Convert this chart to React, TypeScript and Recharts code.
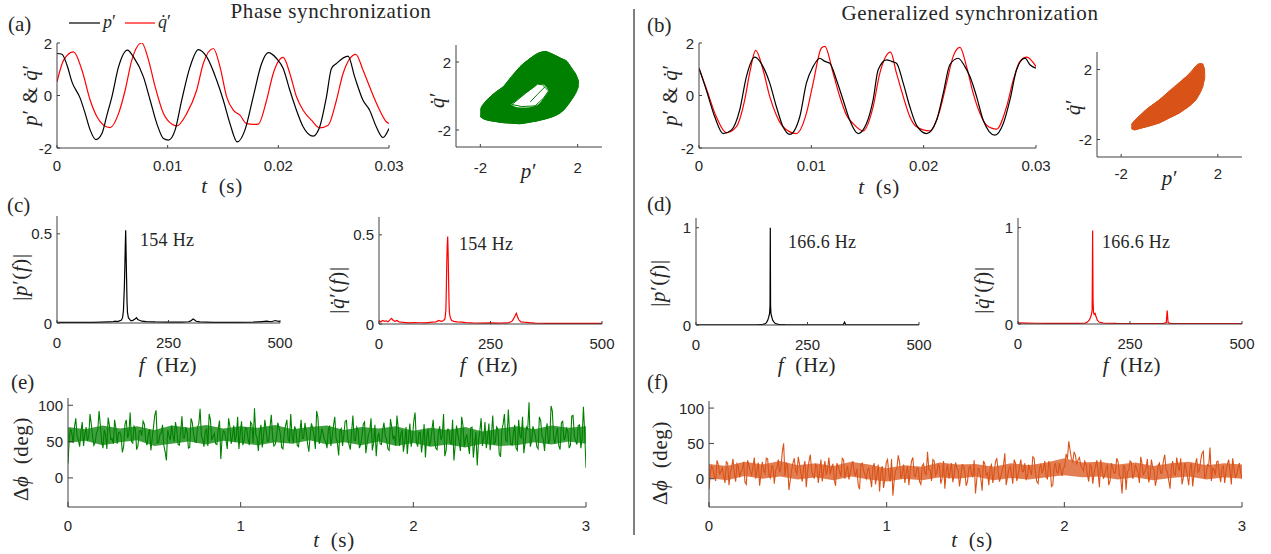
import { LineChart, ComposedChart, Line, Area, XAxis, YAxis } from 'recharts';

type Pt = [number, number];
type Rg = [number, number, number];
type Box = { x0: number; y0: number; x1: number; y1: number };

const AXIS = '#404040';
const TXT = '#262626';
const GREEN = '#008000';
const ORANGE = '#D95319';
const RED = '#FF0000';
const SERIF = '"Liberation Serif", "Times New Roman", serif';
const SANS = '"Liberation Sans", Arial, Helvetica, sans-serif';

// (a) time series, t in ms
const aP: Pt[] = [[0,1.6],[0.45,1.57],[0.9,1.16],[1.35,0.52],[2.1,-0.11],[2.55,-0.69],[3.0,-1.32],[3.52,-1.68],[4.06,-1.45],[4.51,-0.75],[4.96,-0.05],[5.56,1.09],[6.37,1.73],[6.91,1.47],[7.81,0.71],[8.42,-0.18],[9.02,-1.07],[9.62,-1.64],[10.07,-1.7],[10.67,-1.32],[11.27,-0.18],[12.02,1.09],[12.77,1.75],[13.53,1.47],[14.43,0.58],[15.03,-0.18],[15.63,-1.07],[16.29,-1.77],[16.98,-1.32],[17.73,-0.05],[18.49,1.22],[19.09,1.63],[19.84,1.41],[20.44,1.03],[21.04,0.2],[21.64,-0.56],[22.24,-1.19],[23.14,-1.55],[23.74,-1.19],[24.35,-0.05],[24.8,1.03],[25.25,1.22],[26.3,1.5],[26.9,0.71],[27.65,-0.18],[28.25,-0.56],[28.85,-1.19],[29.46,-1.6],[30,-1.26]];
const aQ: Pt[] = [[0,0.52],[0.6,1.35],[1.5,1.66],[2.25,0.97],[3.0,-0.18],[3.61,-0.81],[4.21,-1.13],[4.81,-1.22],[5.56,-0.69],[6.16,0.2],[6.76,1.35],[7.66,2.0],[8.27,1.35],[8.87,0.33],[9.62,-0.69],[10.37,-1.09],[10.82,-1.16],[11.72,-0.69],[12.62,0.2],[13.22,1.22],[14.13,1.79],[14.73,1.09],[15.33,-0.05],[15.93,-0.56],[16.53,-0.75],[17.13,-1.07],[17.73,-1.1],[18.18,-1.09],[18.94,-0.18],[19.54,0.84],[20.44,1.45],[21.04,0.84],[21.64,-0.05],[22.24,-0.56],[22.99,-0.94],[23.74,-1.23],[24.5,-1.13],[25.25,-0.18],[25.85,0.84],[27.0,1.57],[27.65,0.97],[28.25,0.33],[29.16,-0.56],[29.76,-1.0],[30,-1.07]];

// (b) time series, t in ms
const bP: Pt[] = [[0,1.04],[0.65,0.21],[1.4,-0.81],[2.14,-1.45],[2.88,-1.32],[3.62,-0.56],[4.22,0.72],[4.96,1.46],[5.7,1.1],[6.3,0.47],[6.89,-0.43],[7.48,-1.19],[8.08,-1.48],[8.97,-0.81],[9.56,0.47],[10.16,1.1],[10.75,1.42],[11.2,1.3],[11.64,1.23],[12.24,0.59],[12.83,-0.17],[13.42,-0.94],[14.17,-1.45],[14.91,-1.07],[15.5,-0.17],[15.95,0.98],[16.69,1.36],[17.14,1.3],[17.58,1.23],[18.18,0.47],[18.77,-0.43],[19.36,-1.13],[20.26,-1.45],[21.15,-0.94],[21.74,0.08],[22.33,1.17],[23.08,1.42],[23.67,1.1],[24.12,0.72],[24.71,-0.04],[25.3,-0.94],[26.34,-1.51],[27.09,-1.07],[27.68,-0.17],[28.27,0.98],[29.02,1.42],[29.46,1.17],[30,1.04]];
const bQ: Pt[] = [[0,1.04],[0.65,0.27],[1.54,-0.81],[2.44,-1.42],[3.33,-1.19],[4.07,-0.17],[4.51,0.85],[5.05,1.72],[5.7,0.98],[6.3,-0.04],[6.89,-0.75],[7.48,-1.19],[8.67,-1.45],[9.56,-0.68],[10.16,0.47],[10.9,1.81],[11.2,1.87],[11.94,0.85],[12.53,-0.04],[13.13,-0.75],[13.72,-1.07],[14.61,-1.35],[15.5,-0.43],[16.1,0.85],[17.05,1.65],[17.58,0.85],[18.18,-0.04],[18.77,-0.81],[19.36,-1.19],[20.55,-1.35],[21.44,-0.56],[22.04,0.47],[22.63,1.49],[23.23,1.83],[23.82,1.1],[24.41,0.08],[25.01,-0.68],[25.6,-1.13],[26.49,-1.28],[27.38,-0.43],[27.98,0.59],[28.57,1.3],[29.17,1.46],[30,1.1]];

// (a) phase portrait: band [p, lo, hi], hole, edge strands
const aRing: Rg[] = [[-2.0,-1.2,-0.8],[-1.9,-1.32,-0.55],[-1.7,-1.42,-0.2],[-1.4,-1.5,0.18],[-1.05,-1.57,0.55],[-0.7,-1.6,1.15],[-0.37,-1.63,1.72],[0.0,-1.55,2.16],[0.35,-1.46,2.5],[0.66,-1.36,2.62],[1.0,-1.2,2.44],[1.3,-0.98,2.22],[1.55,-0.62,2.04],[1.8,-0.1,1.5],[1.95,0.25,1.2],[2.04,0.6,0.85]];
const aHole: Rg[] = [[-0.72,-0.52,-0.47],[-0.5,-0.66,-0.25],[-0.15,-0.68,0.14],[0.2,-0.6,0.5],[0.4,-0.47,0.7],[0.6,-0.13,0.66],[0.8,0.27,0.33]];
const aEdge: Pt[] = [[-1.98,-1.25],[-1.7,-1.42],[-1.05,-1.57],[-0.37,-1.63],[0.32,-1.47],[1.0,-1.2],[1.42,-0.84],[1.83,-0.05],[2.04,0.75],[1.9,1.35],[1.56,2.04],[1.0,2.44],[0.66,2.62],[0.38,2.52],[0.04,2.2],[-0.37,1.72],[-0.72,1.15],[-1.05,0.55],[-1.35,0.25],[-1.75,-0.25],[-1.96,-0.64],[-1.98,-1.25]];
const aInner: Pt[] = [[-0.7,-0.5],[-0.3,-0.62],[0.25,-0.58],[0.6,-0.12],[0.8,0.3],[0.55,0.66],[0.35,0.7],[-0.15,0.15],[-0.7,-0.5]];
const aStrand: Pt[] = [[0.05,-0.35],[0.35,0.1],[0.66,0.55]];

// (b) phase portrait
const bBlob: Rg[] = [[-1.58,-1.38,-1.15],[-1.45,-1.45,-0.92],[-1.2,-1.36,-0.6],[-0.9,-1.25,-0.22],[-0.6,-1.13,0.08],[-0.3,-0.97,0.4],[0.0,-0.76,0.77],[0.3,-0.56,1.1],[0.6,-0.3,1.48],[0.9,0.0,1.85],[1.15,0.4,2.27],[1.35,0.95,2.33],[1.46,1.55,1.95]];
const bEdge: Pt[] = [[-1.56,-1.34],[-1.46,-1.45],[-0.9,-1.25],[-0.42,-1.06],[0.0,-0.76],[0.41,-0.49],[0.8,-0.1],[1.1,0.26],[1.38,1.02],[1.46,1.6],[1.45,1.95],[1.38,2.3],[1.25,2.35],[1.17,2.3],[0.69,1.58],[0.2,1.02],[-0.42,0.26],[-0.98,-0.3],[-1.53,-1.06],[-1.56,-1.34]];

// spectra [f (Hz), amplitude]
const cP: Pt[] = [[0,0.003],[20,0.004],[40,0.003],[60,0.004],[80,0.004],[100,0.005],[115,0.006],[125,0.007],[130,0.01],[135,0.008],[140,0.012],[144,0.015],[147,0.03],[149,0.07],[151,0.2],[152,0.3],[153,0.42],[154,0.52],[155,0.38],[156,0.25],[157,0.12],[158,0.06],[160,0.03],[163,0.02],[166,0.012],[170,0.015],[175,0.022],[178,0.03],[181,0.02],[185,0.015],[190,0.01],[200,0.008],[220,0.006],[250,0.005],[280,0.005],[295,0.007],[300,0.012],[305,0.022],[308,0.018],[312,0.01],[320,0.006],[350,0.004],[400,0.004],[440,0.005],[460,0.008],[470,0.01],[480,0.007],[490,0.014],[495,0.01],[500,0.008]];
const cQ: Pt[] = [[0,0.02],[4,0.012],[8,0.02],[12,0.015],[16,0.018],[20,0.012],[24,0.022],[28,0.032],[32,0.02],[36,0.015],[40,0.02],[45,0.012],[50,0.01],[60,0.008],[70,0.006],[80,0.008],[90,0.007],[100,0.006],[110,0.008],[120,0.01],[128,0.012],[134,0.02],[140,0.015],[145,0.02],[148,0.03],[150,0.08],[151,0.2],[152,0.35],[153,0.44],[154,0.49],[155,0.4],[156,0.25],[157,0.12],[158,0.06],[160,0.035],[163,0.02],[168,0.015],[175,0.012],[185,0.01],[195,0.008],[210,0.006],[230,0.005],[250,0.006],[270,0.005],[290,0.006],[298,0.015],[302,0.03],[306,0.05],[308,0.06],[310,0.045],[313,0.025],[318,0.012],[325,0.01],[335,0.008],[350,0.005],[380,0.004],[420,0.003],[460,0.004],[500,0.003]];
const dP: Pt[] = [[0,0.002],[50,0.002],[100,0.002],[140,0.003],[150,0.006],[155,0.012],[158,0.025],[161,0.05],[163,0.08],[165,0.12],[166,0.2],[166.6,1.0],[167.2,0.2],[168,0.12],[170,0.08],[172,0.05],[175,0.03],[178,0.015],[185,0.006],[200,0.003],[250,0.002],[300,0.002],[330,0.002],[333,0.03],[336,0.002],[400,0.002],[500,0.001]];
const dQ: Pt[] = [[0,0.012],[20,0.01],[40,0.008],[60,0.007],[80,0.006],[100,0.006],[130,0.006],[150,0.01],[155,0.02],[159,0.04],[162,0.07],[164,0.1],[165.5,0.15],[166.6,0.97],[167.5,0.25],[168.5,0.12],[170,0.1],[172,0.11],[174,0.08],[177,0.04],[181,0.02],[190,0.01],[220,0.006],[260,0.005],[300,0.005],[325,0.006],[331,0.015],[333,0.14],[335,0.015],[340,0.006],[400,0.004],[450,0.004],[500,0.004]];

// phase difference (deg): samples at k*0.015 s and at the half steps between them
const PHASE_DT = 0.015;
const ePhase = [
  20,68,48,82,52,64,44,70,56,74,45,62,92,50,66,40,72,54,80,47,
  63,35,74,55,90,48,68,44,65,78,52,60,38,70,93,49,62,45,24,58,
  72,50,66,45,85,55,63,42,76,50,70,95,53,64,44,80,57,47,68,26,
  65,52,82,47,72,58,40,78,52,68,45,74,96,55,62,42,80,50,70,56,
  46,76,60,40,72,53,88,48,66,43,80,55,63,36,75,58,92,47,68,53,
  41,72,57,84,49,65,44,78,55,39,86,51,66,46,74,34,60,82,48,30,
  62,46,76,53,38,70,58,86,44,66,49,33,75,55,90,43,63,51,28,68,
  49,80,41,62,52,88,38,67,47,24,72,51,84,43,60,33,70,47,17,64,
  44,77,55,38,86,49,67,29,74,52,94,46,62,41,80,55,34,70,104,51,
  65,43,84,58,37,75,52,92,47,69,39,78,56,64,45,86,51,72,41,98,14,
];
const ePhaseHalf = [
  55,61,70,58,43,77,60,51,88,57,49,66,72,41,59,83,53,47,68,62,
  57,44,80,61,50,71,39,64,58,74,45,67,54,86,48,60,73,36,66,52,
  59,77,46,63,55,70,41,82,60,49,74,58,43,67,88,52,61,46,79,55,
  63,40,71,57,50,84,62,45,69,54,77,48,60,37,73,58,66,51,87,44,
  56,69,42,63,80,50,58,71,45,62,54,76,47,59,68,40,83,56,61,50,
  65,44,72,55,31,68,59,79,46,63,52,70,41,57,77,48,64,38,73,55,
  47,66,58,40,81,53,45,69,60,36,70,55,43,78,50,62,35,74,57,44,
  66,52,39,71,58,30,67,49,80,45,60,37,72,54,46,69,28,63,51,82,
  55,41,75,60,47,70,33,66,88,50,62,45,73,38,58,84,49,67,43,71,
  57,40,79,53,65,47,99,55,61,44,76,52,68,41,85,58,46,73,54,62,
];
const fPhase = [
  -15,18,2,26,6,15,-6,22,9,28,-4,17,10,24,-8,19,5,30,12,-10,
  24,8,28,1,18,12,27,15,50,22,-16,12,29,7,20,-4,25,10,34,3,
  20,-6,27,12,5,30,15,-2,22,10,29,0,18,8,25,5,-9,20,12,0,
  15,-12,22,5,-18,18,0,27,-4,-24,12,33,0,20,8,-9,25,5,15,-4,
  18,8,38,12,27,5,20,-7,25,10,0,22,5,15,-11,20,8,-4,18,2,
  -21,15,0,25,5,-9,20,8,29,-4,12,36,2,18,-7,22,5,27,10,-2,
  20,5,29,-4,15,8,25,0,18,-9,22,8,12,15,35,53,28,38,20,30,
  15,25,5,20,-7,18,10,27,0,15,-9,22,8,29,5,-21,18,10,25,0,
  20,8,31,5,15,-5,27,12,0,22,8,34,10,-14,25,5,18,29,2,15,
  -9,22,8,29,12,36,0,20,44,15,5,25,-5,18,10,27,-8,15,5,22,0,
];
const fPhaseHalf = [
  8,14,-3,20,11,4,24,-9,16,7,21,2,13,-5,26,10,17,0,23,6,
  12,29,5,18,-7,15,9,38,4,19,-2,22,11,31,7,16,-12,24,13,1,
  18,9,-4,25,14,6,21,-10,17,3,27,11,-1,19,8,14,-15,22,5,12,
  2,16,-8,20,9,-13,23,6,28,-2,14,24,7,-6,18,11,30,3,15,-8,
  21,6,13,-3,25,9,17,1,-14,20,10,-5,23,12,4,19,-10,15,7,26,
  0,13,-17,21,8,16,-6,24,11,3,19,-9,14,7,27,-3,17,10,22,5,
  12,31,8,-7,20,14,2,25,-11,16,9,22,4,18,28,40,24,33,27,19,
  11,21,-4,17,8,26,-12,13,5,20,-3,15,9,24,1,18,-16,12,23,6,
  14,-6,21,10,28,3,16,-10,19,8,25,13,-2,17,6,30,11,-8,22,4,
  15,-11,20,9,26,39,5,18,-3,13,24,7,16,-6,20,11,29,2,14,9,
];
// dense core of the phase-difference trace, every 0.1 s
const CORE_DT = 0.1;
const eCoreLo = [48,51,45,49,52,44,47,50,46,51,48,45,49,47,52,46,49,45,50,44,48,43,46,42,47,44,45,49,46,50,47];
const eCoreHi = [70,67,72,68,71,66,72,69,73,68,71,69,73,67,70,72,66,70,68,71,65,69,66,70,64,68,71,67,72,69,71];
const fCoreLo = [1,-2,4,0,3,-1,2,-2,3,-1,-4,0,-2,2,0,3,-2,1,-1,2,5,2,3,-1,2,-2,1,3,-1,2,0];
const fCoreHi = [21,18,24,20,25,19,22,18,24,20,15,19,17,23,20,21,17,22,19,23,29,23,24,20,23,18,22,24,19,22,20];

const toXY = (a: Pt[]) => a.map(([x, y]) => ({ x, y }));
const toRange = (a: Rg[]) => a.map(([x, lo, hi]) => ({ x, r: [lo, hi] }));
const core = (lo: number[], hi: number[]) => lo.map((l, i) => ({ x: i * CORE_DT, r: [l, hi[i]] }));
function merge(main: number[], half: number[]) {
  const out: { x: number; y: number }[] = [];
  main.forEach((y, i) => {
    out.push({ x: i * PHASE_DT, y });
    if (i < half.length) out.push({ x: (i + 0.5) * PHASE_DT, y: half[i] });
  });
  return out;
}

const YW = 40, XH = 30;
const MT = 10, MR = 20, MB = 5, ML = 5;
const MARGIN = { top: MT, right: MR, bottom: MB, left: ML };

type Side = 'bottom' | 'left' | 'top' | 'right';
function tick(side: Side, len: number, fmt?: (v: number) => string, gap = 0) {
  return (p: any) => {
    const { x, y } = p;
    const v = p.payload?.value;
    const dx = side === 'left' ? len : side === 'right' ? -len : 0;
    const dy = side === 'bottom' ? -len : side === 'top' ? len : 0;
    return (
      <g>
        <line x1={x} y1={y} x2={x + dx} y2={y + dy} stroke={AXIS} strokeWidth={1} />
        {fmt && side === 'bottom' && (
          <text x={x} y={y + gap} textAnchor="middle" dominantBaseline="central" fontFamily={SANS} fontSize={15} fill={TXT}>{fmt(v)}</text>
        )}
        {fmt && side === 'left' && (
          <text x={x - gap} y={y} textAnchor="end" dominantBaseline="central" fontFamily={SANS} fontSize={15} fill={TXT}>{fmt(v)}</text>
        )}
      </g>
    );
  };
}

const str = (v: number) => String(v);
const fmtMs = (v: number) => String(v / 1000);

function axes(b: {
  xd: [number, number]; xt: number[]; xf: (v: number) => string;
  yd: [number, number]; yt: number[]; yf: (v: number) => string;
  frame: boolean; len: number; xgap?: number;
}) {
  const common = { type: 'number' as const, allowDataOverflow: true, interval: 0 as const, tickSize: 0, tickMargin: 0, tickLine: false, axisLine: { stroke: AXIS } };
  const els = [
    <XAxis key="xb" {...common} dataKey="x" domain={b.xd} ticks={b.xt} height={XH} tick={tick('bottom', b.len, b.xf, b.xgap ?? 18)} />,
    <YAxis key="yl" {...common} domain={b.yd} ticks={b.yt} width={YW} tick={tick('left', b.len, b.yf, 5)} />,
  ];
  if (b.frame) {
    els.push(<XAxis key="xt" {...common} xAxisId="top" orientation="top" dataKey="x" domain={b.xd} ticks={b.xt} height={0} tick={tick('top', b.len)} />);
    els.push(<YAxis key="yr" {...common} yAxisId="right" orientation="right" domain={b.yd} ticks={b.yt} width={0} tick={tick('right', b.len)} />);
  }
  return els;
}

function geom(b: Box) {
  return { left: b.x0 - YW - ML, top: b.y0 - MT, width: b.x1 - b.x0 + YW + ML + MR, height: b.y1 - b.y0 + XH + MT + MB };
}

function TimeSeries({ box, p, q, pc, qc }: { box: Box; p: Pt[]; q: Pt[]; pc: string; qc: string }) {
  const g = geom(box);
  return (
    <div style={{ position: 'absolute', left: g.left, top: g.top }}>
      <LineChart width={g.width} height={g.height} margin={MARGIN}>
        {axes({ xd: [0, 30], xt: [0, 10, 20, 30], xf: fmtMs, yd: [-2, 2], yt: [-2, 0, 2], yf: str, frame: false, len: 3, xgap: 17 })}
        <Line data={toXY(q)} dataKey="y" type="monotone" stroke={qc} strokeWidth={1.2} dot={false} isAnimationActive={false} />
        <Line data={toXY(p)} dataKey="y" type="monotone" stroke={pc} strokeWidth={1.2} dot={false} isAnimationActive={false} />
      </LineChart>
    </div>
  );
}

function Portrait({ box, color, band, hole, edges, xgap }: { box: Box; color: string; band: Rg[]; hole?: Rg[]; edges: Pt[][]; xgap: number }) {
  const g = geom(box);
  return (
    <div style={{ position: 'absolute', left: g.left, top: g.top }}>
      <ComposedChart width={g.width} height={g.height} margin={MARGIN}>
        {axes({ xd: [-3, 3], xt: [-2, 2], xf: str, yd: [-3, 3], yt: [-2, 2], yf: str, frame: false, len: 3, xgap })}
        <Area data={toRange(band)} dataKey="r" type="monotone" stroke={color} strokeWidth={1} fill={color} fillOpacity={1} isAnimationActive={false} />
        {hole && <Area data={toRange(hole)} dataKey="r" type="monotone" stroke="none" fill="#ffffff" fillOpacity={1} isAnimationActive={false} />}
        {edges.map((e, i) => (
          <Line key={i} data={toXY(e)} dataKey="y" type="linear" stroke={color} strokeWidth={1} dot={false} isAnimationActive={false} />
        ))}
      </ComposedChart>
    </div>
  );
}

function Spectrum({ box, data, color, ymax, yt }: { box: Box; data: Pt[]; color: string; ymax: number; yt: number[] }) {
  const g = geom(box);
  return (
    <div style={{ position: 'absolute', left: g.left, top: g.top }}>
      <LineChart width={g.width} height={g.height} margin={MARGIN}>
        {axes({ xd: [0, 500], xt: [0, 250, 500], xf: str, yd: [0, ymax], yt, yf: str, frame: true, len: 3, xgap: 19 })}
        <Line data={toXY(data)} dataKey="y" type="linear" stroke={color} strokeWidth={1.2} dot={false} isAnimationActive={false} />
      </LineChart>
    </div>
  );
}

function Phase({ box, main, half, lo, hi, color }: { box: Box; main: number[]; half: number[]; lo: number[]; hi: number[]; color: string }) {
  const g = geom(box);
  return (
    <div style={{ position: 'absolute', left: g.left, top: g.top }}>
      <ComposedChart width={g.width} height={g.height} margin={MARGIN}>
        {axes({ xd: [0, 3], xt: [0, 1, 2, 3], xf: str, yd: [-40, 110], yt: [0, 50, 100], yf: str, frame: true, len: 5, xgap: 18 })}
        <Area data={core(lo, hi)} dataKey="r" type="linear" stroke="none" fill={color} fillOpacity={0.75} isAnimationActive={false} />
        <Line data={merge(main, half)} dataKey="y" type="linear" stroke={color} strokeWidth={1.1} dot={false} isAnimationActive={false} />
      </ComposedChart>
    </div>
  );
}

const I = ({ children }: { children: string }) => <tspan fontStyle="italic">{children}</tspan>;
const PR = '\u2032';
const QD = 'q\u0307';

function YLabel({ x, y, children, size = 21 }: { x: number; y: number; children: any; size?: number }) {
  return (
    <text transform={`translate(${x},${y}) rotate(-90)`} textAnchor="middle" dominantBaseline="central" fontFamily={SERIF} fontSize={size} letterSpacing={0.6} fill={TXT}>{children}</text>
  );
}
function Label({ x, y, children, size = 21, anchor = 'middle', ls = 0.6 }: { x: number; y: number; children: any; size?: number; anchor?: string; ls?: number }) {
  return <text x={x} y={y} textAnchor={anchor as any} fontFamily={SERIF} fontSize={size} letterSpacing={ls} fill={TXT}>{children}</text>;
}

const pq = <><I>p</I>{PR} &amp; <I>{QD}</I>{PR}</>;
const tS = <><I>t</I>{'\u2002'}(s)</>;
const fHz = <><I>f</I>{'\u2002'}(Hz)</>;
const absP = <>|<I>p</I>{PR}(<I>f</I>)|</>;
const absQ = <>|<I>{QD}</I>{PR}(<I>f</I>)|</>;
const dphi = <>Δ<I>{'\u03D5'}</I>{'\u2002'}(deg)</>;

export default function App() {
  return (
    <div style={{ position: 'absolute', left: 0, top: 0, width: 1271, height: 554, background: '#fff', overflow: 'hidden' }}>
      <TimeSeries box={{ x0: 57, y0: 43, x1: 389, y1: 148 }} p={aP} q={aQ} pc="#000000" qc={RED} />
      <TimeSeries box={{ x0: 699, y0: 43, x1: 1036, y1: 148 }} p={bP} q={bQ} pc="#000000" qc={RED} />
      <Portrait box={{ x0: 456, y0: 45, x1: 602, y1: 147 }} color={GREEN} band={aRing} hole={aHole} edges={[aEdge, aInner, aStrand]} xgap={20} />
      <Portrait box={{ x0: 1097, y0: 52, x1: 1242, y1: 157 }} color={ORANGE} band={bBlob} edges={[bEdge]} xgap={16} />
      <Spectrum box={{ x0: 57, y0: 216, x1: 280, y1: 323 }} data={cP} color="#000000" ymax={0.6} yt={[0, 0.5]} />
      <Spectrum box={{ x0: 379, y0: 217, x1: 602, y1: 324 }} data={cQ} color={RED} ymax={0.6} yt={[0, 0.5]} />
      <Spectrum box={{ x0: 696, y0: 218, x1: 919, y1: 325 }} data={dP} color="#000000" ymax={1.1} yt={[0, 1]} />
      <Spectrum box={{ x0: 1018, y0: 218, x1: 1242, y1: 324 }} data={dQ} color={RED} ymax={1.1} yt={[0, 1]} />
      <Phase box={{ x0: 68, y0: 398, x1: 586, y1: 507 }} main={ePhase} half={ePhaseHalf} lo={eCoreLo} hi={eCoreHi} color={GREEN} />
      <Phase box={{ x0: 709, y0: 401, x1: 1242, y1: 507 }} main={fPhase} half={fPhaseHalf} lo={fCoreLo} hi={fCoreHi} color={ORANGE} />

      <svg width={1271} height={554} style={{ position: 'absolute', left: 0, top: 0, pointerEvents: 'none' }}>
        <line x1={634} y1={9} x2={634} y2={535} stroke="#000" strokeWidth={1} />

        <Label x={331} y={18}>Phase synchronization</Label>
        <Label x={970} y={20}>Generalized synchronization</Label>

        <Label x={8} y={31} size={21} anchor="start" ls={0}>(a)</Label>
        <Label x={647} y={32} size={21} anchor="start" ls={0}>(b)</Label>
        <Label x={7} y={212} size={21} anchor="start" ls={0}>(c)</Label>
        <Label x={647} y={211} size={21} anchor="start" ls={0}>(d)</Label>
        <Label x={11} y={389} size={21} anchor="start" ls={0}>(e)</Label>
        <Label x={647} y={389} size={21} anchor="start" ls={0}>(f)</Label>

        <line x1={69} y1={23} x2={100} y2={23} stroke="#000" strokeWidth={1.2} />
        <Label x={103} y={28} size={18} anchor="start" ls={0}><I>p</I>{PR}</Label>
        <line x1={125} y1={23} x2={155} y2={23} stroke={RED} strokeWidth={1.2} />
        <Label x={158} y={28} size={18} anchor="start" ls={0}><I>{QD}</I>{PR}</Label>

        <YLabel x={30} y={95}>{pq}</YLabel>
        <Label x={222} y={193}>{tS}</Label>
        <YLabel x={437} y={100}><I>{QD}</I>{PR}</YLabel>
        <Label x={529} y={178}><I>p</I>{PR}</Label>

        <YLabel x={670} y={95}>{pq}</YLabel>
        <Label x={879} y={194}>{tS}</Label>
        <YLabel x={1073} y={107}><I>{QD}</I>{PR}</YLabel>
        <Label x={1170} y={185}><I>p</I>{PR}</Label>

        <YLabel x={20} y={277}>{absP}</YLabel>
        <Label x={168} y={372}>{fHz}</Label>
        <Label x={140} y={246} size={18} anchor="start" ls={0.3}>154 Hz</Label>
        <YLabel x={337} y={290}>{absQ}</YLabel>
        <Label x={489} y={372}>{fHz}</Label>
        <Label x={459} y={250} size={18} anchor="start" ls={0.3}>154 Hz</Label>

        <YLabel x={658} y={283}>{absP}</YLabel>
        <Label x={807} y={372}>{fHz}</Label>
        <Label x={788} y={248} size={18} anchor="start" ls={0.3}>166.6 Hz</Label>
        <YLabel x={982} y={290}>{absQ}</YLabel>
        <Label x={1132} y={372}>{fHz}</Label>
        <Label x={1102} y={248} size={18} anchor="start" ls={0.3}>166.6 Hz</Label>

        <YLabel x={21} y={459}>{dphi}</YLabel>
        <Label x={334} y={547}>{tS}</Label>
        <YLabel x={660} y={463}>{dphi}</YLabel>
        <Label x={972} y={547}>{tS}</Label>
      </svg>
    </div>
  );
}
